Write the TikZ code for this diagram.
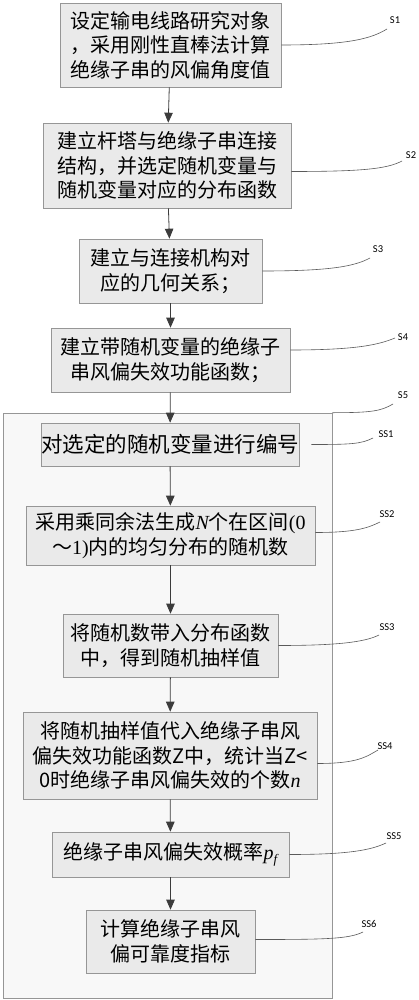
\documentclass[tikz,border=0pt]{standalone}
\usepackage{fontspec}
\setmainfont{Noto Sans CJK SC}
\newfontfamily\lserif{Liberation Serif}
\newfontfamily\lsans{Carlito}
\usetikzlibrary{arrows.meta,calc}
\definecolor{boxfill}{RGB}{234,234,234}
\definecolor{bigfill}{RGB}{248,248,248}
\definecolor{boxline}{RGB}{150,150,150}
\definecolor{arrline}{RGB}{60,60,60}
\definecolor{leadline}{RGB}{90,90,90}
\newcommand{\itv}[1]{{\lserif\itshape #1}}
\begin{document}
\begin{tikzpicture}[x=1pt,y=-1pt,
  box/.style={draw=boxline, fill=boxfill, line width=0.6pt, inner sep=0pt, align=center,
    font=\fontsize{20}{24.5}\selectfont},
  bigbox/.style={draw=boxline, fill=bigfill, line width=0.6pt, inner sep=0pt},
  arr/.style={draw=arrline, line width=0.8pt, -{Triangle[length=10pt,width=8.5pt]}},
  lead/.style={draw=leadline, line width=0.6pt},
  lab/.style={font=\lsans\fontsize{10.5}{11}\selectfont, inner sep=0pt, text=black}]
\useasboundingbox (0,0) rectangle (418,1000);
\fill[white] (0,0) rectangle (418,1000);

% big box S5
\node[bigbox, minimum width=329pt, minimum height=585pt] (s5) at (167.5,705.5) {};

% main boxes
\node[box, minimum width=221pt, minimum height=84pt] (s1) at (170.5,45)
  {设定输电线路研究对象\\，采用刚性直棒法计算\\绝缘子串的风偏角度值};
\node[box, minimum width=248pt, minimum height=85pt] (s2) at (167,165.5)
  {建立杆塔与绝缘子串连接\\结构，并选定随机变量与\\随机变量对应的分布函数};
\node[box, minimum width=183pt, minimum height=64pt] (s3) at (170.5,271)
  {建立与连接机构对\\应的几何关系；};
\node[box, minimum width=239pt, minimum height=64pt] (s4) at (170.5,360)
  {建立带随机变量的绝缘子\\串风偏失效功能函数；};
\node[box, minimum width=256pt, minimum height=43pt, font=\fontsize{21.5}{24.5}\selectfont] (ss1) at (170,444.5)
  {对选定的随机变量进行编号};
\node[box, minimum width=289pt, minimum height=59pt] (ss2) at (170.5,535.5)
  {采用乘同余法生成\itv{N}个在区间{\lserif(0}\\～{\lserif 1)}内的均匀分布的随机数};
\node[box, minimum width=215pt, minimum height=63pt] (ss3) at (170.5,645.5)
  {将随机数带入分布函数\\中，得到随机抽样值};
\node[box, minimum width=294pt, minimum height=87pt] (ss4) at (170,755.5)
  {将随机抽样值代入绝缘子串风\\偏失效功能函数Z中，统计当Z<\\0时绝缘子串风偏失效的个数\itv{n}};
\node[box, minimum width=237pt, minimum height=45pt] (ss5) at (170.5,854.5)
  {绝缘子串风偏失效概率\itv{p}\raisebox{-4pt}{\lserif\itshape\fontsize{13}{13}\selectfont f}};
\node[box, minimum width=169pt, minimum height=63pt] (ss6) at (170.5,941.5)
  {计算绝缘子串风\\偏可靠度指标};

% arrows
\draw[arr] (s1) -- (s2);
\draw[arr] (s2) -- (s3);
\draw[arr] (s3) -- (s4);
\draw[arr] (s4) -- (ss1);
\draw[arr] (ss1) -- (ss2);
\draw[arr] (ss2) -- (ss3);
\draw[arr] (ss3) -- (ss4);
\draw[arr] (ss4) -- (ss5);
\draw[arr] (ss5) -- (ss6);

% labels
\node[lab] (l1) at (395,20) {S1};
\node[lab] (l2) at (411,155) {S2};
\node[lab] (l3) at (378,249) {S3};
\node[lab] (l4) at (403,337) {S4};
\node[lab] (l5) at (403,395) {S5};
\node[lab] (l51) at (386,434) {SS1};
\node[lab] (l52) at (387,514) {SS2};
\node[lab] (l53) at (387,627) {SS3};
\node[lab] (l54) at (385,746) {SS4};
\node[lab] (l55) at (394,836) {SS5};
\node[lab] (l56) at (369,924) {SS6};

\coordinate (e1) at (387,29);
\coordinate (e2) at (402,161);
\coordinate (e3) at (370,258);
\coordinate (e4) at (395,338);
\coordinate (e5) at (393,404);
\coordinate (e51) at (373,438);
\coordinate (e52) at (380,522);
\coordinate (e53) at (379,635);
\coordinate (e54) at (378,750);
\coordinate (e55) at (386,843);
\coordinate (e56) at (363,932);

\draw[lead] (s1.east) .. controls +(70,0) and +(-15,9) .. (e1);
\draw[lead] ($(s2.east)+(0,6)$) .. controls +(70,0) and +(-15,8) .. (e2);
\draw[lead] (s3.east) .. controls +(70,0) and +(-15,8) .. (e3);
\draw[lead] ($(s4.east)+(0,-10)$) .. controls +(70,0) and +(-15,6) .. (e4);
\draw[lead] (s5.north east) .. controls +(40,0) and +(-12,7) .. (e5);
\draw[lead] ($(ss1.east)+(12,0)$) .. controls +(40,0) and +(-12,6) .. (e51);
\draw[lead] ($(ss2.east)+(0,-3)$) .. controls +(40,0) and +(-12,6) .. (e52);
\draw[lead] (ss3.east) .. controls +(60,0) and +(-14,7) .. (e53);
\draw[lead] ($(ss4.east)+(0,8)$) .. controls +(40,0) and +(-12,7) .. (e54);
\draw[lead] (ss5.east) .. controls +(60,0) and +(-15,7) .. (e55);
\draw[lead] ($(ss6.east)+(0,-2)$) .. controls +(70,0) and +(-14,7) .. (e56);
\end{tikzpicture}
\end{document}
